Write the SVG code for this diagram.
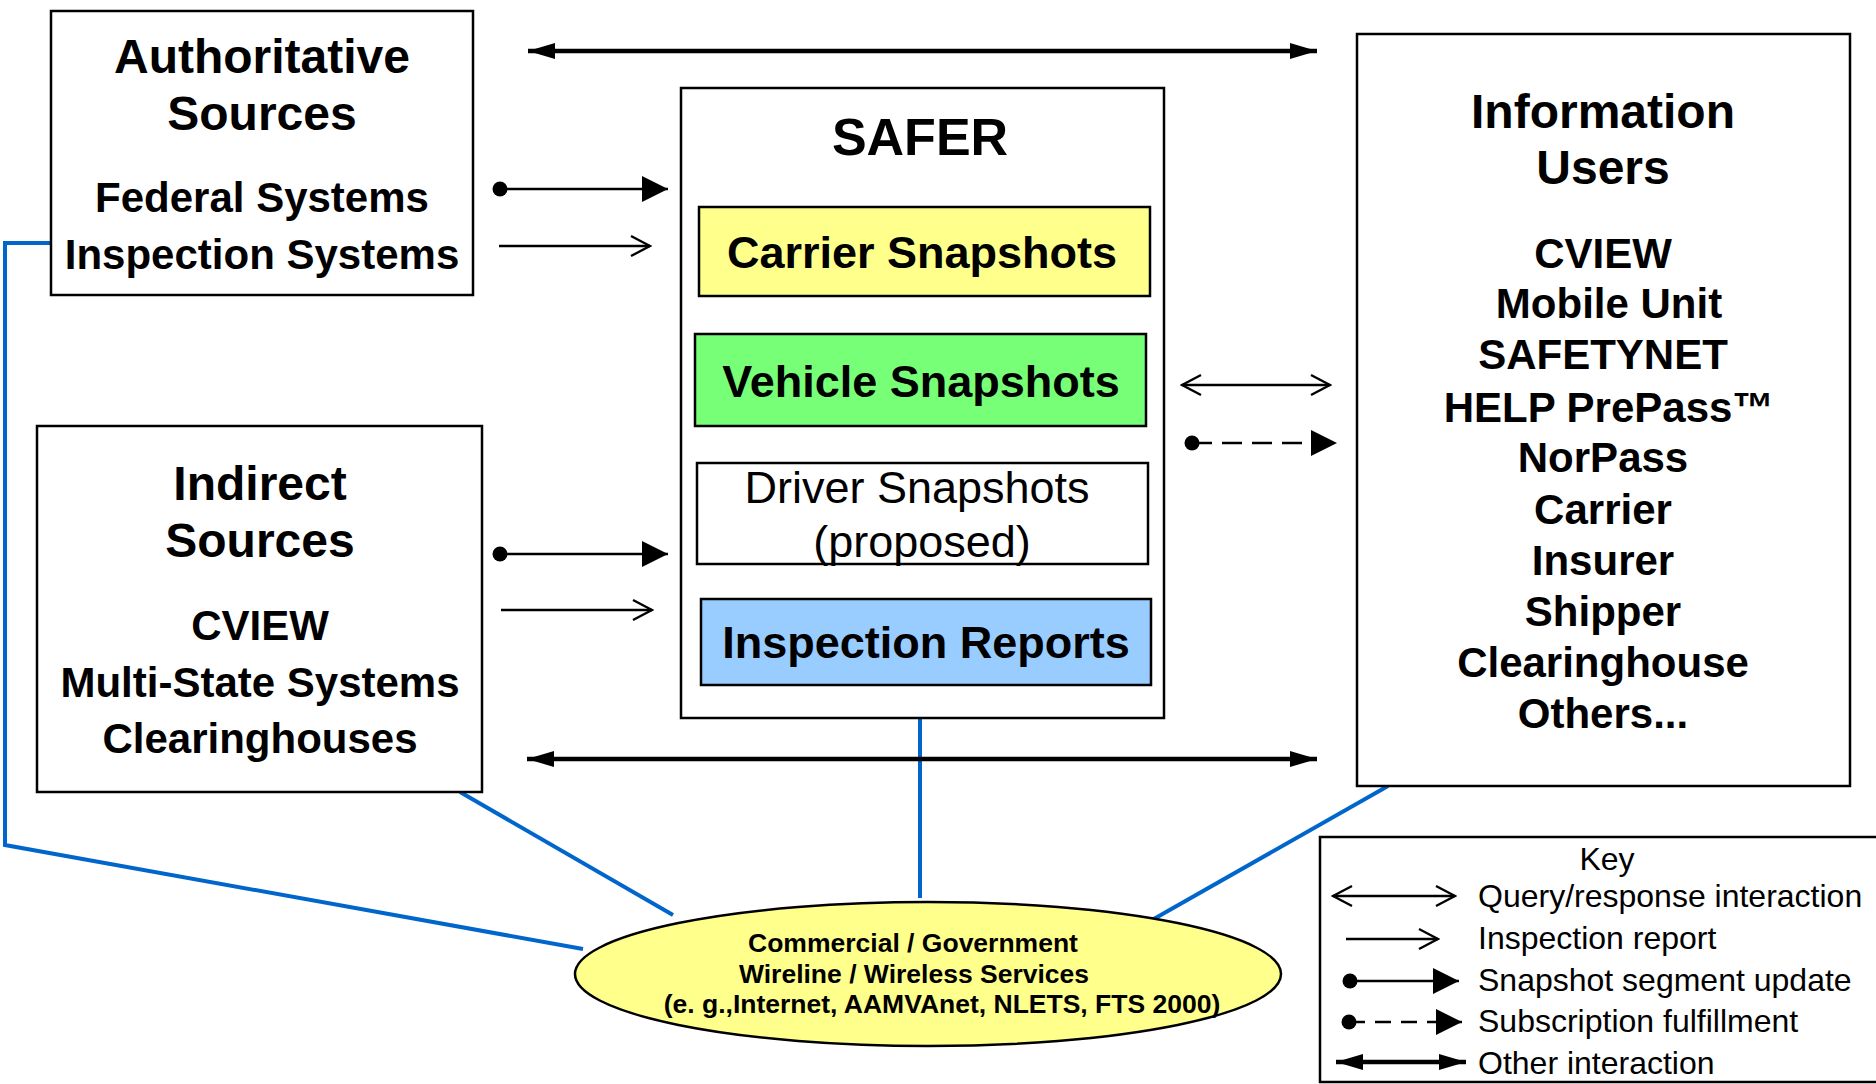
<svg xmlns="http://www.w3.org/2000/svg" width="1876" height="1084" viewBox="0 0 1876 1084">
<style>
text{font-family:"Liberation Sans",Arial,Helvetica,sans-serif;fill:#000}
.t{font-size:48px;font-weight:bold;text-anchor:middle}
.i{font-size:42px;font-weight:bold;text-anchor:middle}
.s{font-size:45px;font-weight:bold;text-anchor:middle}
.box{fill:#fff;stroke:#000;stroke-width:2.5}
.blue{fill:none;stroke:#0066cc;stroke-width:4}
.thin{stroke:#000;stroke-width:2.6;fill:none}
.thick{stroke:#000;stroke-width:4.5;fill:none}
.k{font-size:32px}
.e{font-size:26.5px;font-weight:bold;text-anchor:middle}
</style>
<defs>
<marker id="open" viewBox="-22 -12 24 24" refX="0" refY="0" markerWidth="24" markerHeight="24" markerUnits="userSpaceOnUse" orient="auto-start-reverse">
<path d="M-19,-10 L0,0 L-19,10" fill="none" stroke="#000" stroke-width="2.4"/>
</marker>
<marker id="tri" viewBox="-28 -15 30 30" refX="0" refY="0" markerWidth="30" markerHeight="30" markerUnits="userSpaceOnUse" orient="auto">
<path d="M-26,-13 L0,0 L-26,13 Z" fill="#000"/>
</marker>
<marker id="big" viewBox="-30 -10 32 20" refX="0" refY="0" markerWidth="32" markerHeight="20" markerUnits="userSpaceOnUse" orient="auto-start-reverse">
<path d="M-27,-8 L0,0 L-27,8 Z" fill="#000"/>
</marker>
<marker id="dot" viewBox="-9 -9 18 18" refX="0" refY="0" markerWidth="18" markerHeight="18" markerUnits="userSpaceOnUse">
<circle cx="0" cy="0" r="7.5" fill="#000"/>
</marker>
</defs>

<g id="connectors">
<path class="blue" d="M51,243 H5 V845 L583,949"/>
<path class="blue" d="M460,792 L673,915"/>
<path class="blue" d="M920,718 V898"/>
<path class="blue" d="M1388,786 L1152,920"/>
<line class="thick" x1="528" y1="51" x2="1317" y2="51" marker-start="url(#big)" marker-end="url(#big)"/>
<line class="thick" x1="527" y1="759" x2="1317" y2="759" marker-start="url(#big)" marker-end="url(#big)"/>
<line class="thin" x1="500" y1="189" x2="668" y2="189" marker-start="url(#dot)" marker-end="url(#tri)"/>
<line class="thin" x1="499" y1="246" x2="650" y2="246" marker-end="url(#open)"/>
<line class="thin" x1="500" y1="554" x2="668" y2="554" marker-start="url(#dot)" marker-end="url(#tri)"/>
<line class="thin" x1="501" y1="610" x2="652" y2="610" marker-end="url(#open)"/>
<line class="thin" x1="1182" y1="385" x2="1330" y2="385" marker-start="url(#open)" marker-end="url(#open)"/>
<line class="thin" x1="1192" y1="443" x2="1337" y2="443" stroke-dasharray="20 10" marker-start="url(#dot)" marker-end="url(#tri)"/>
</g>

<g id="authoritative">
<rect class="box" x="51" y="11" width="422" height="284"/>
<text class="t" x="262" y="73">Authoritative</text>
<text class="t" x="262" y="130">Sources</text>
<text class="i" x="262" y="212">Federal Systems</text>
<text class="i" x="262" y="269">Inspection Systems</text>
</g>

<g id="indirect">
<rect class="box" x="37" y="426" width="445" height="366"/>
<text class="t" x="260" y="500">Indirect</text>
<text class="t" x="260" y="557">Sources</text>
<text class="i" x="260" y="640">CVIEW</text>
<text class="i" x="260" y="697">Multi-State Systems</text>
<text class="i" x="260" y="753">Clearinghouses</text>
</g>

<g id="safer">
<rect class="box" x="681" y="88" width="483" height="630"/>
<text x="920" y="155" style="font-size:52px;font-weight:bold;text-anchor:middle">SAFER</text>
</g>

<g id="carrier">
<rect x="699" y="207" width="451" height="89" fill="#ffff8c" stroke="#000" stroke-width="2.5"/>
<text class="s" x="922" y="268">Carrier Snapshots</text>
</g>

<g id="vehicle">
<rect x="695" y="334" width="451" height="92" fill="#77ff77" stroke="#000" stroke-width="2.5"/>
<text class="s" x="921" y="397">Vehicle Snapshots</text>
</g>

<g id="driver">
<rect x="697" y="463" width="451" height="101" fill="#fff" stroke="#000" stroke-width="2.5"/>
<text x="917" y="503" style="font-size:45px;text-anchor:middle">Driver Snapshots</text>
<text x="922" y="557" style="font-size:45px;text-anchor:middle">(proposed)</text>
</g>

<g id="inspection">
<rect x="701" y="599" width="450" height="86" fill="#99ccff" stroke="#000" stroke-width="2.5"/>
<text class="s" x="926" y="658">Inspection Reports</text>
</g>

<g id="users">
<rect class="box" x="1357" y="34" width="493" height="752"/>
<text class="t" x="1603" y="128">Information</text>
<text class="t" x="1603" y="184">Users</text>
<text class="i" x="1603" y="268">CVIEW</text>
<text class="i" x="1609" y="318">Mobile Unit</text>
<text class="i" x="1603" y="369">SAFETYNET</text>
<text class="i" x="1609" y="422">HELP PrePass™</text>
<text class="i" x="1603" y="472">NorPass</text>
<text class="i" x="1603" y="524">Carrier</text>
<text class="i" x="1603" y="575">Insurer</text>
<text class="i" x="1603" y="626">Shipper</text>
<text class="i" x="1603" y="677">Clearinghouse</text>
<text class="i" x="1603" y="728">Others...</text>
</g>

<g id="network">
<ellipse cx="928" cy="974" rx="353" ry="72" fill="#ffff8c" stroke="#000" stroke-width="2.5"/>
<text class="e" x="913" y="952">Commercial / Government</text>
<text class="e" x="914" y="983">Wireline / Wireless Services</text>
<text class="e" x="942" y="1013">(e. g.,Internet, AAMVAnet, NLETS, FTS 2000)</text>
</g>

<g id="key">
<rect x="1320" y="837" width="570" height="245" fill="#fff" stroke="#000" stroke-width="2.5"/>
<text class="k" x="1607" y="870" text-anchor="middle">Key</text>
<line class="thin" x1="1333" y1="896" x2="1455" y2="896" marker-start="url(#open)" marker-end="url(#open)"/>
<text class="k" x="1478" y="907">Query/response interaction</text>
<line class="thin" x1="1346" y1="939" x2="1438" y2="939" marker-end="url(#open)"/>
<text class="k" x="1478" y="949">Inspection report</text>
<line class="thin" x1="1350" y1="981" x2="1459" y2="981" marker-start="url(#dot)" marker-end="url(#tri)"/>
<text class="k" x="1478" y="991">Snapshot segment update</text>
<line class="thin" x1="1349" y1="1022" x2="1462" y2="1022" stroke-dasharray="16 10" marker-start="url(#dot)" marker-end="url(#tri)"/>
<text class="k" x="1478" y="1032">Subscription fulfillment</text>
<line class="thick" x1="1336" y1="1062" x2="1466" y2="1062" marker-start="url(#big)" marker-end="url(#big)"/>
<text class="k" x="1478" y="1074">Other interaction</text>
</g>
</svg>
